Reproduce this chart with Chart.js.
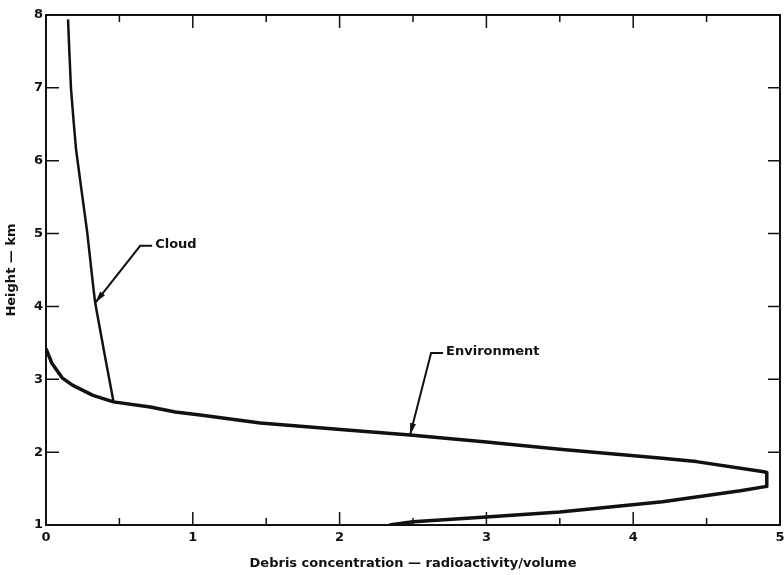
<!DOCTYPE html>
<html>
<head>
<meta charset="utf-8">
<title>Debris concentration profile</title>
<script src="https://cdn.jsdelivr.net/npm/chart.js@4.4.1/dist/chart.umd.min.js"></script>
<style>
  html, body { margin: 0; padding: 0; background: #fff; }
  #wrap { width: 784px; height: 575px; }
</style>
</head>
<body>
<div id="wrap"><canvas id="profile-chart"></canvas></div>
<script>
// environment profile (up the tail, out to the peak, back down)
const envConc = [0, 0.04, 0.11, 0.18, 0.32, 0.46, 0.71, 0.88, 1.05, 1.46, 2.07, 2.48, 3.0, 3.5, 4.18, 4.43, 4.89, 4.91, 4.91, 4.73, 4.2, 3.5, 3.0, 2.5, 2.34];
const envHeight = [3.42, 3.22, 3.02, 2.92, 2.78, 2.69, 2.62, 2.55, 2.51, 2.4, 2.3, 2.235, 2.14, 2.04, 1.92, 1.87, 1.73, 1.72, 1.53, 1.47, 1.32, 1.18, 1.11, 1.045, 1.0];

// cloud profile
const cloudConc = [0.15, 0.17, 0.205, 0.28, 0.335, 0.46];
const cloudHeight = [7.94, 7.0, 6.15, 5.03, 4.05, 2.69];

// axes
const xTicks = [0, 1, 2, 3, 4, 5];
const yTicks = [1, 2, 3, 4, 5, 6, 7, 8];

// callouts: arrow tip sits on the curve at [conc, height]
const callouts = [
  { text: "Cloud", at: [0.335, 4.05], elbow: [45, -57] },
  { text: "Environment", at: [2.48, 2.235], elbow: [21, -82] },
];

const FONT = "'DejaVu Sans', Verdana, sans-serif";
Chart.defaults.font.family = FONT;
Chart.defaults.color = "#111";

const toPoints = (xs, ys) => xs.map((x, i) => ({ x, y: ys[i] }));

// frame, inward tick marks and the arrow callouts
const decorations = {
  id: "decorations",
  afterDatasetsDraw(chart) {
    const { ctx, chartArea: a, scales } = chart;
    const xs = scales.x, ys = scales.y;
    ctx.save();
    ctx.strokeStyle = "#111";
    ctx.lineWidth = 2;
    ctx.strokeRect(a.left, a.top, a.right - a.left, a.bottom - a.top);

    ctx.lineWidth = 1.5;
    ctx.beginPath();
    yTicks.forEach((v) => {
      const py = ys.getPixelForValue(v);
      ctx.moveTo(a.left, py); ctx.lineTo(a.left + 13, py);
      ctx.moveTo(a.right, py); ctx.lineTo(a.right - 12, py);
    });
    for (let v = 0.5; v < 5; v += 0.5) {
      const px = xs.getPixelForValue(v);
      const len = Number.isInteger(v) ? 13 : 7;
      ctx.moveTo(px, a.bottom); ctx.lineTo(px, a.bottom - len);
      ctx.moveTo(px, a.top); ctx.lineTo(px, a.top + len);
    }
    ctx.stroke();

    ctx.font = "bold 13px " + FONT;
    ctx.textBaseline = "middle";
    ctx.fillStyle = "#111";
    callouts.forEach((c) => {
      const tx = xs.getPixelForValue(c.at[0]);
      const ty = ys.getPixelForValue(c.at[1]);
      const ex = tx + c.elbow[0], ey = ty + c.elbow[1];
      ctx.lineWidth = 2;
      ctx.beginPath();
      ctx.moveTo(ex + 12, ey);
      ctx.lineTo(ex, ey);
      ctx.lineTo(tx, ty);
      ctx.stroke();
      // arrow head
      const ang = Math.atan2(ty - ey, tx - ex);
      const cos = Math.cos(ang), sin = Math.sin(ang);
      ctx.beginPath();
      ctx.moveTo(tx, ty);
      ctx.lineTo(tx - 12 * cos + 3 * sin, ty - 12 * sin - 3 * cos);
      ctx.lineTo(tx - 12 * cos - 3 * sin, ty - 12 * sin + 3 * cos);
      ctx.closePath();
      ctx.fill();
      ctx.fillText(c.text, ex + 15, ey - 1);
    });
    ctx.restore();
  },
};

new Chart(document.getElementById("profile-chart"), {
  type: "scatter",
  data: {
    datasets: [
      {
        label: "Environment",
        data: toPoints(envConc, envHeight),
        showLine: true,
        borderColor: "#111",
        borderWidth: 3.5,
        pointRadius: 0,
        tension: 0,
        borderJoinStyle: "round",
      },
      {
        label: "Cloud",
        data: toPoints(cloudConc, cloudHeight),
        showLine: true,
        borderColor: "#111",
        borderWidth: 2.5,
        pointRadius: 0,
        tension: 0.1,
      },
    ],
  },
  options: {
    responsive: true,
    maintainAspectRatio: false,
    animation: false,
    layout: { padding: { top: 15, right: 4, left: 0, bottom: 0 } },
    plugins: {
      legend: { display: false },
      tooltip: { enabled: false },
    },
    scales: {
      x: {
        type: "linear",
        min: 0,
        max: 5,
        afterBuildTicks: (s) => { s.ticks = xTicks.map((v) => ({ value: v })); },
        afterFit: (s) => { s.height = 50; s.paddingLeft = 0; s.paddingRight = 0; },
        grid: { display: false, drawTicks: false },
        border: { display: false },
        ticks: { padding: 5, font: { size: 13, weight: "bold" }, color: "#111" },
        title: {
          display: true,
          text: "Debris concentration — radioactivity/volume",
          font: { size: 13, weight: "bold" },
          color: "#111",
          padding: { top: 0, bottom: 4 },
        },
      },
      y: {
        type: "linear",
        min: 1,
        max: 8,
        afterBuildTicks: (s) => { s.ticks = yTicks.map((v) => ({ value: v })); },
        afterFit: (s) => { s.width = 46; s.paddingTop = 0; s.paddingBottom = 0; },
        grid: { display: false, drawTicks: false },
        border: { display: false },
        ticks: { padding: 3, font: { size: 13, weight: "bold" }, color: "#111" },
        title: {
          display: true,
          text: "Height — km",
          font: { size: 13, weight: "bold" },
          color: "#111",
          padding: { top: 4, bottom: 0 },
        },
      },
    },
  },
  plugins: [decorations],
});
</script>
</body>
</html>
